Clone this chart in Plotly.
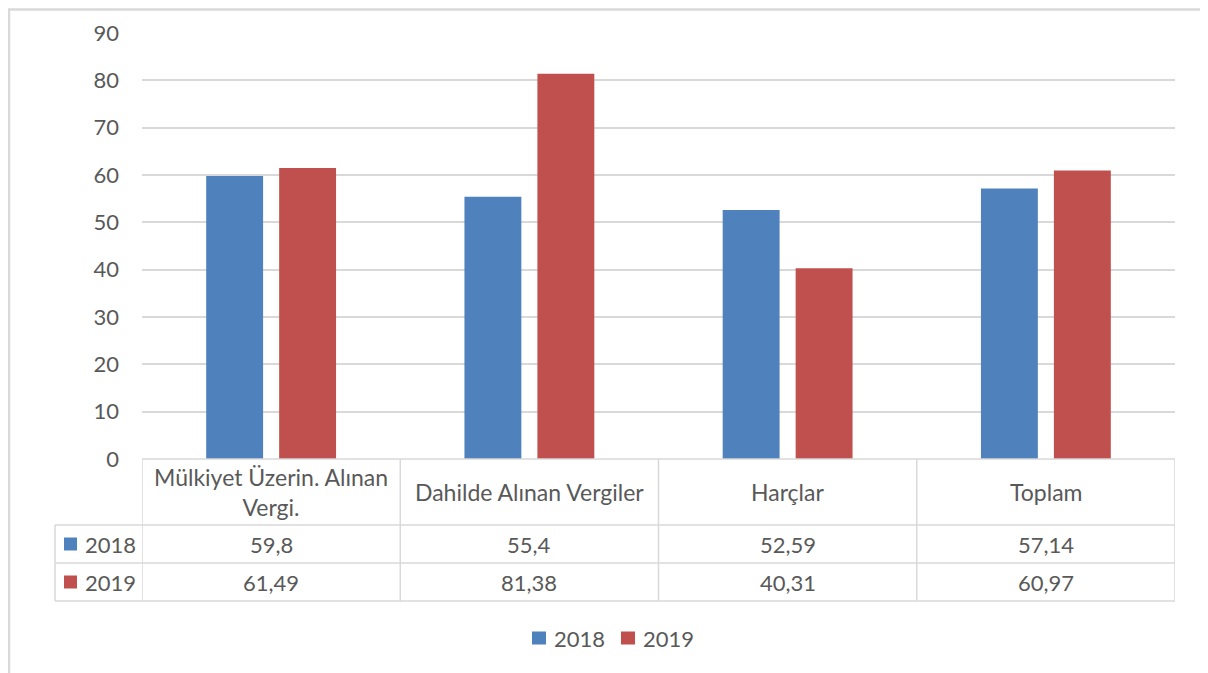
import textwrap
import plotly.graph_objects as go

# ---- data ----
categories = ["Mülkiyet Üzerin. Alınan Vergi.", "Dahilde Alınan Vergiler", "Harçlar", "Toplam"]
years = ["2018", "2019"]
values_2018 = [59.8, 55.4, 52.59, 57.14]
values_2019 = [61.49, 81.38, 40.31, 60.97]
y_ticks = [0, 10, 20, 30, 40, 50, 60, 70, 80, 90]

series = [values_2018, values_2019]
colors = ["#4F81BD", "#C0504D"]

# page body has an 8px margin; figure fills the rest of the 1208x673 window
OFF = 8
W, H = 1200, 665
TXT = "#595959"
GRID = "#D9D9D9"
FONT = "Lato"
FS = 22
FS_CAT = 23


def px(x):
    return (x - OFF) / W


def py(y):
    return 1 - (y - OFF) / H


def fmt(v):
    return ("%g" % v).replace(".", ",")


x_idx = list(range(len(categories)))

fig = go.Figure()
for name, vals, col in zip(years, series, colors):
    fig.add_trace(go.Bar(x=x_idx, y=vals, name=name, marker=dict(color=col, line_width=0)))

plot_left, plot_right = 142, 1175
plot_top, plot_bottom = 33, 459
row_lines = [459, 525, 563, 601]
left_col = 55

shapes = []
annotations = []

# outer border
shapes.append(dict(type="rect", xref="paper", yref="paper", x0=px(9), x1=px(1203), y0=py(9.5), y1=-0.1,
                   line=dict(color="#D9D9D9", width=2.5), fillcolor="rgba(0,0,0,0)", layer="below"))

# table horizontal lines
shapes.append(dict(type="line", xref="paper", yref="paper", x0=px(plot_left), x1=px(plot_right),
                   y0=py(row_lines[0]), y1=py(row_lines[0]), line=dict(color=GRID, width=1.5)))
for yl in row_lines[1:]:
    shapes.append(dict(type="line", xref="paper", yref="paper", x0=px(left_col), x1=px(plot_right),
                       y0=py(yl), y1=py(yl), line=dict(color=GRID, width=1.5)))
# left edge of series-label column
shapes.append(dict(type="line", xref="paper", yref="paper", x0=px(left_col), x1=px(left_col),
                   y0=py(row_lines[1]), y1=py(row_lines[3]), line=dict(color=GRID, width=1.5)))
# column separators (category boundaries, data coords)
for i in range(len(categories) + 1):
    shapes.append(dict(type="line", xref="x", yref="paper", x0=i - 0.5, x1=i - 0.5,
                       y0=py(row_lines[0]), y1=py(row_lines[3]), line=dict(color=GRID, width=1.5)))

# header: category names
for i, cat in enumerate(categories):
    annotations.append(dict(xref="x", yref="paper", x=i, y=py((row_lines[0] + row_lines[1]) / 2),
                            text="<br>".join(textwrap.wrap(cat, 23)), showarrow=False,
                            font=dict(family=FONT, size=FS_CAT, color=TXT), xanchor="center", yanchor="middle"))

# data rows
for r, (name, vals, col) in enumerate(zip(years, series, colors)):
    yc = (row_lines[r + 1] + row_lines[r + 2]) / 2
    shapes.append(dict(type="rect", xref="paper", yref="paper", x0=px(64), x1=px(77),
                       y0=py(yc - 6.5), y1=py(yc + 6.5), fillcolor=col, line_width=0))
    annotations.append(dict(xref="paper", yref="paper", x=px(83), y=py(yc), text=name, showarrow=False,
                            font=dict(family=FONT, size=FS, color=TXT), xanchor="left", yanchor="middle"))
    for i, v in enumerate(vals):
        annotations.append(dict(xref="x", yref="paper", x=i, y=py(yc), text=fmt(v), showarrow=False,
                                font=dict(family=FONT, size=FS, color=TXT), xanchor="center", yanchor="middle"))

# legend (drawn manually to match spacing)
leg_y = 638
leg_x = [532, 621]
for name, col, lx in zip(years, colors, leg_x):
    shapes.append(dict(type="rect", xref="paper", yref="paper", x0=px(lx), x1=px(lx + 14),
                       y0=py(leg_y - 6.5), y1=py(leg_y + 6.5), fillcolor=col, line_width=0))
    annotations.append(dict(xref="paper", yref="paper", x=px(lx + 20), y=py(leg_y), text=name, showarrow=False,
                            font=dict(family=FONT, size=FS, color=TXT), xanchor="left", yanchor="middle"))

fig.update_layout(
    width=W, height=H, autosize=False,
    margin=dict(l=0, r=0, t=0, b=0, autoexpand=False),
    paper_bgcolor="white", plot_bgcolor="white",
    barmode="group", bargap=0.435, bargroupgap=0.22,
    xaxis=dict(domain=[px(plot_left), px(plot_right)], range=[-0.5, len(categories) - 0.5],
               showticklabels=False, showgrid=False, zeroline=False, showline=False, ticks="",
               automargin=False),
    yaxis=dict(domain=[py(plot_bottom), py(plot_top)], range=[0, 90], tickvals=y_ticks,
               showgrid=True, gridcolor=GRID, gridwidth=1.5, zeroline=False, showline=False,
               automargin=False,
               ticklabelstandoff=22, tickfont=dict(family=FONT, size=FS, color=TXT)),
    showlegend=False,
    shapes=shapes, annotations=annotations,
)

fig.write_html("out.html")
